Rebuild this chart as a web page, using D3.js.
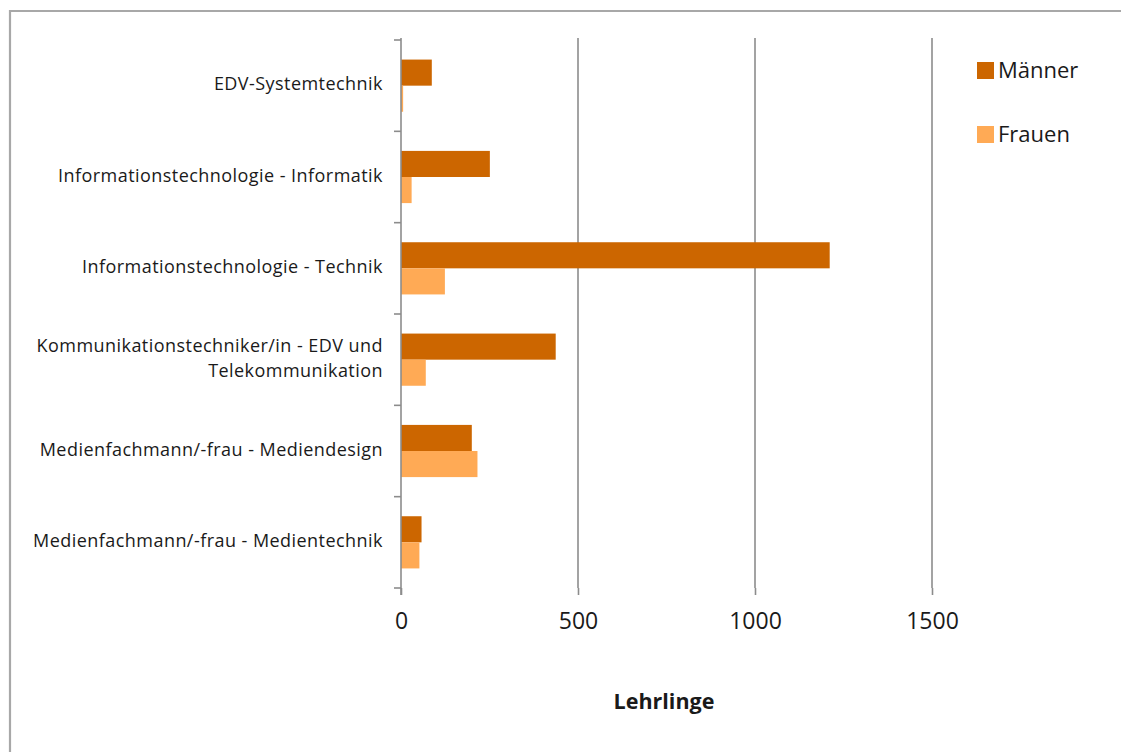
<!DOCTYPE html>
<html><head><meta charset="utf-8">
<script src="https://cdn.jsdelivr.net/npm/d3@7"></script>
<style>
html,body{margin:0;padding:0;background:#fff;}
svg{display:block;font-family:"Open Sans",Lato,sans-serif;}
</style></head>
<body>
<svg id="chart" width="1121" height="752"></svg>
<script>
const categories = [
  "EDV-Systemtechnik",
  "Informationstechnologie - Informatik",
  "Informationstechnologie - Technik",
  "Kommunikationstechniker/in - EDV und|Telekommunikation",
  "Medienfachmann/-frau - Mediendesign",
  "Medienfachmann/-frau - Medientechnik"
];
const seriesNames = ["Männer", "Frauen"];
const maenner = [87, 251, 1211, 437, 200, 58];
const frauen = [6, 30, 124, 70, 216, 52];
const xTicks = [0, 500, 1000, 1500];
const xTitle = "Lehrlinge";
const colors = ["#CC6600", "#FFAA55"];

(function(){
const svg = d3.select("#chart");
const FONT = "'Open Sans',Lato,sans-serif";
// outer border
svg.append("path").attr("d","M10,752 V11 H1121").attr("fill","none")
  .attr("stroke","#a8a8a8").attr("stroke-width",2.2);

const pL = 401, pR = 932, pT = 40, pB = 588;
const x = d3.scaleLinear().domain([0,1500]).range([pL,pR]);
const y = d3.scaleBand().domain(d3.range(categories.length)).range([pT,pB]);
const inner = d3.scaleBand().domain([0,1]).range([0,y.bandwidth()]).paddingInner(0).paddingOuter(0.75);

// gridlines
svg.append("g").selectAll("line").data(xTicks.filter(d=>d>0)).join("line")
  .attr("x1",d=>x(d)).attr("x2",d=>x(d)).attr("y1",pT-2).attr("y2",pB)
  .attr("stroke","#8c8c8c").attr("stroke-width",1.6);

// bars
const data = categories.map((c,i)=>[maenner[i], frauen[i]]);
const g = svg.append("g");
data.forEach((vals,i)=>{
  vals.forEach((v,s)=>{
    g.append("rect").attr("x",x(0)).attr("y",y(i)+inner(s))
      .attr("width",x(v)-x(0)).attr("height",inner.bandwidth())
      .attr("fill",colors[s]);
  });
});

// y axis
const yAxisG = svg.append("g");
yAxisG.append("line").attr("x1",pL).attr("x2",pL).attr("y1",pT-2).attr("y2",pB+7)
  .attr("stroke","#8c8c8c").attr("stroke-width",1.6);
const bounds = d3.range(categories.length+1).map(i=> i<categories.length ? y(i) : pB);
yAxisG.selectAll("line.t").data(bounds).join("line").attr("class","t")
  .attr("x1",pL-7).attr("x2",pL).attr("y1",d=>d).attr("y2",d=>d)
  .attr("stroke","#8c8c8c").attr("stroke-width",1.6);

categories.forEach((c,i)=>{
  const lines = c.split("|");
  const cy = y(i)+y.bandwidth()/2;
  const lh = 25;
  const t = svg.append("text").attr("text-anchor","end").attr("font-size",18)
    .attr("fill","#1a1a1a").attr("letter-spacing",0.45);
  lines.forEach((l,k)=>{
    t.append("tspan").attr("x",383).attr("y", cy + 4.5 + (k-(lines.length-1)/2)*lh).text(l);
  });
});

// x axis ticks
const xAxis = d3.axisBottom(x).tickValues(xTicks).tickFormat(d3.format("d")).tickSize(7).tickPadding(18);
const xg = svg.append("g").attr("transform",`translate(0,${pB})`).call(xAxis);
xg.select(".domain").remove();
xg.selectAll(".tick line").attr("stroke","#8c8c8c").attr("stroke-width",1.6);
xg.selectAll(".tick text").attr("font-size",23).attr("fill","#1a1a1a").attr("font-family",FONT);

svg.append("text").attr("x",664).attr("y",709).attr("text-anchor","middle")
  .attr("font-size",21.5).attr("font-weight","bold").attr("fill","#1a1a1a").text(xTitle);

// legend
const lg = svg.append("g");
seriesNames.forEach((n,i)=>{
  const ly = 62 + i*64;
  lg.append("rect").attr("x",977).attr("y",ly).attr("width",17).attr("height",17).attr("fill",colors[i]);
  lg.append("text").attr("x",998).attr("y",ly+16).attr("font-size",22).attr("fill","#1a1a1a").text(n);
});
})();
</script>
</body></html>
